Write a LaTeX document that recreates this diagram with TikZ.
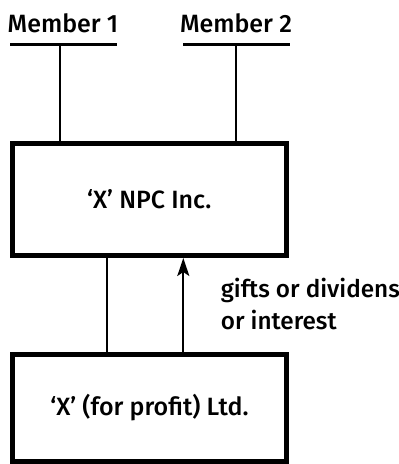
\documentclass[tikz,border=0pt]{standalone}
\usepackage{fontspec}
\setmainfont{Fira Sans}[UprightFont=* Medium]
\usetikzlibrary{arrows.meta}
\begin{document}
\begin{tikzpicture}[x=1pt,y=1pt,
  lbl/.style={font=\fontsize{25}{32}\selectfont, inner sep=0pt},
  note/.style={font=\fontsize{24.3}{32}\selectfont, inner sep=0pt, align=left},
  entity/.style={draw, line width=5pt, inner sep=0pt, font=\fontsize{25}{32}\selectfont},
  bar/.style={line width=3.5pt},
  conn/.style={line width=2pt}]
\useasboundingbox (0,0) rectangle (399,-464);
\node[lbl, anchor=base] (mem1) at (63,-32) {Member 1};
\node[lbl, anchor=base] (mem2) at (236,-32) {Member 2};
\coordinate (b1l) at (10,-44.5);
\coordinate (b1r) at (117,-44.5);
\coordinate (b2l) at (183,-44.5);
\coordinate (b2r) at (290,-44.5);
\coordinate (m1) at (60,-44.5);
\coordinate (m2) at (236,-44.5);
\draw[bar] (b1l) -- (b1r);
\draw[bar] (b2l) -- (b2r);
\node[entity, minimum width=274.5pt, minimum height=112.5pt] (npc) at (149.25,-199.25) {‘X’ NPC Inc.};
\node[entity, minimum width=274pt, minimum height=107.5pt] (ltd) at (149.5,-407.75) {‘X’ (for profit) Ltd.};
\draw[conn] (m1) -- (m1 |- npc.north);
\draw[conn] (m2) -- (m2 |- npc.north);
\coordinate (c1) at (107,-300);
\coordinate (c2) at (183.3,-300);
\draw[conn] (c1 |- npc.south) -- (c1 |- ltd.north);
\draw[conn, -{Stealth[length=18pt,width=12pt,inset=4pt]}] (c2 |- ltd.north) -- (c2 |- npc.south);
\node[note, anchor=base west] (gift) at (220.7,-329.3) {gifts or dividens\\or interest};
\end{tikzpicture}
\end{document}
